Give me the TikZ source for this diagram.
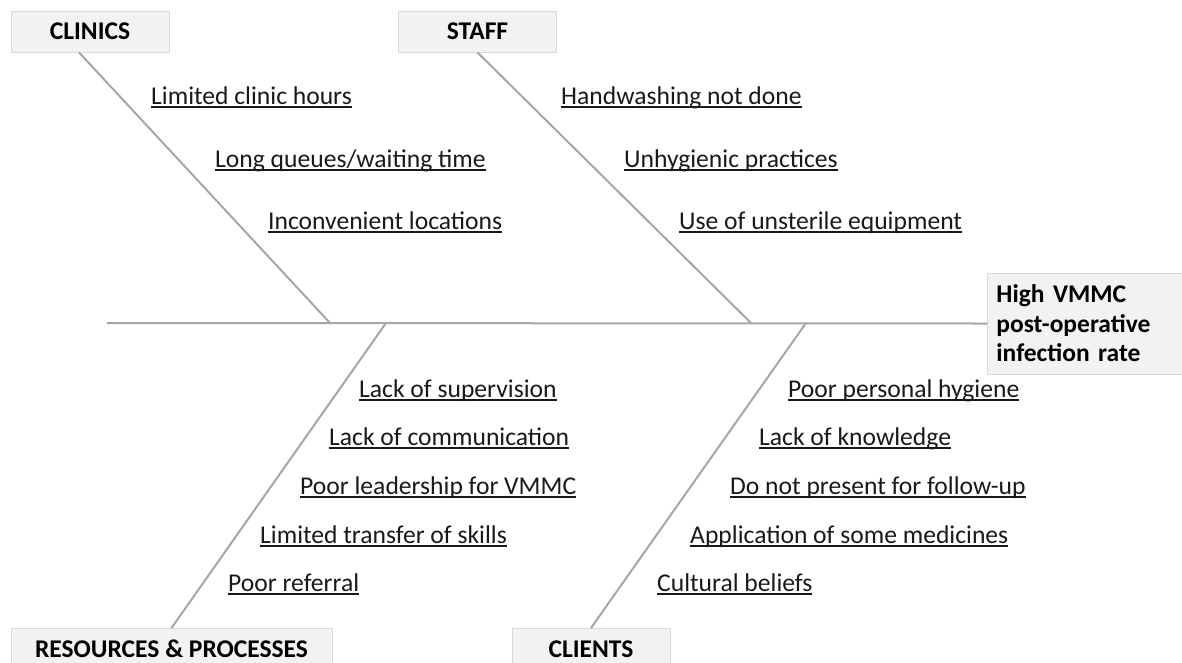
\documentclass[tikz,border=0pt]{standalone}
\usepackage{fontspec}
\setmainfont{Carlito}
\usetikzlibrary{positioning}
\newsavebox{\ulbox}
\newcommand{\ulabel}[1]{\sbox{\ulbox}{#1}\rlap{\rule[-3.7pt]{\wd\ulbox}{1.3pt}}\usebox{\ulbox}}
\definecolor{bonegray}{HTML}{A6A6A6}
\definecolor{boxfill}{HTML}{F2F2F2}
\definecolor{boxline}{HTML}{D9D9D9}

\begin{document}
\begin{tikzpicture}[x=1pt,y=-1pt,
    catbox/.style={draw=boxline,fill=boxfill,line width=0.8pt,minimum width=158pt,minimum height=41pt,inner sep=0pt,font=\fontsize{25.5}{30}\selectfont\bfseries},
    effect/.style={draw=boxline,fill=boxfill,line width=0.8pt,minimum height=101pt,text width=200pt,inner xsep=9pt,align=left,font=\fontsize{25.5}{29.5}\selectfont\bfseries},
    cause/.style={anchor=base west,inner sep=0pt,font=\fontsize{25.6}{30}\selectfont,text=black!90},
    bone/.style={draw=bonegray,line width=2pt}]
    \useasboundingbox (0,0) rectangle (1182,662);
    \clip (0,0) rectangle (1182,662);

    \node[catbox] (clinics) at (90,31.5) {CLINICS};
    \node[catbox] (staff) at (477.5,31.5) {STAFF};
    \node[catbox,minimum width=321pt,anchor=north] (resproc) at (171.5,628) {RESOURCES \& PROCESSES};
    \node[catbox,anchor=north] (clients) at (591,628) {CLIENTS};
    \node[effect,anchor=west] (effect) at (987,323.5) {High VMMC\\post-operative\\infection rate};

    \coordinate (tail) at (107,323);
    \coordinate (j1) at (330,323);
    \coordinate (j2) at (386,323);
    \coordinate (j3) at (751,323);
    \coordinate (j4) at (806,323);

    \draw[bone] (tail) -- (effect.west);
    \draw[bone] ([xshift=-11pt]clinics.south) -- (j1);
    \draw[bone] (staff.south) -- (j3);
    \draw[bone] (resproc.north) -- (j2);
    \draw[bone] (clients.north) -- (j4);

    \node[cause] (c1) at (151,104) {\ulabel{Limited clinic hours}};
    \node[cause] (c2) at (215,167) {\ulabel{Long queues/waiting time}};
    \node[cause] (c3) at (268,229) {\ulabel{Inconvenient locations}};
    \node[cause] (s1) at (561,104) {\ulabel{Handwashing not done}};
    \node[cause] (s2) at (624,167) {\ulabel{Unhygienic practices}};
    \node[cause] (s3) at (679,229) {\ulabel{Use of unsterile equipment}};
    \node[cause] (r1) at (359,397) {\ulabel{Lack of supervision}};
    \node[cause] (r2) at (329,445) {\ulabel{Lack of communication}};
    \node[cause] (r3) at (300,494) {\ulabel{Poor leadership for VMMC}};
    \node[cause] (r4) at (260,543) {\ulabel{Limited transfer of skills}};
    \node[cause] (r5) at (228,591) {\ulabel{Poor referral}};
    \node[cause] (k1) at (788,397) {\ulabel{Poor personal hygiene}};
    \node[cause] (k2) at (759,445) {\ulabel{Lack of knowledge}};
    \node[cause] (k3) at (730,494) {\ulabel{Do not present for follow-up}};
    \node[cause] (k4) at (690,543) {\ulabel{Application of some medicines}};
    \node[cause] (k5) at (657,591) {\ulabel{Cultural beliefs}};
\end{tikzpicture}
\end{document}
